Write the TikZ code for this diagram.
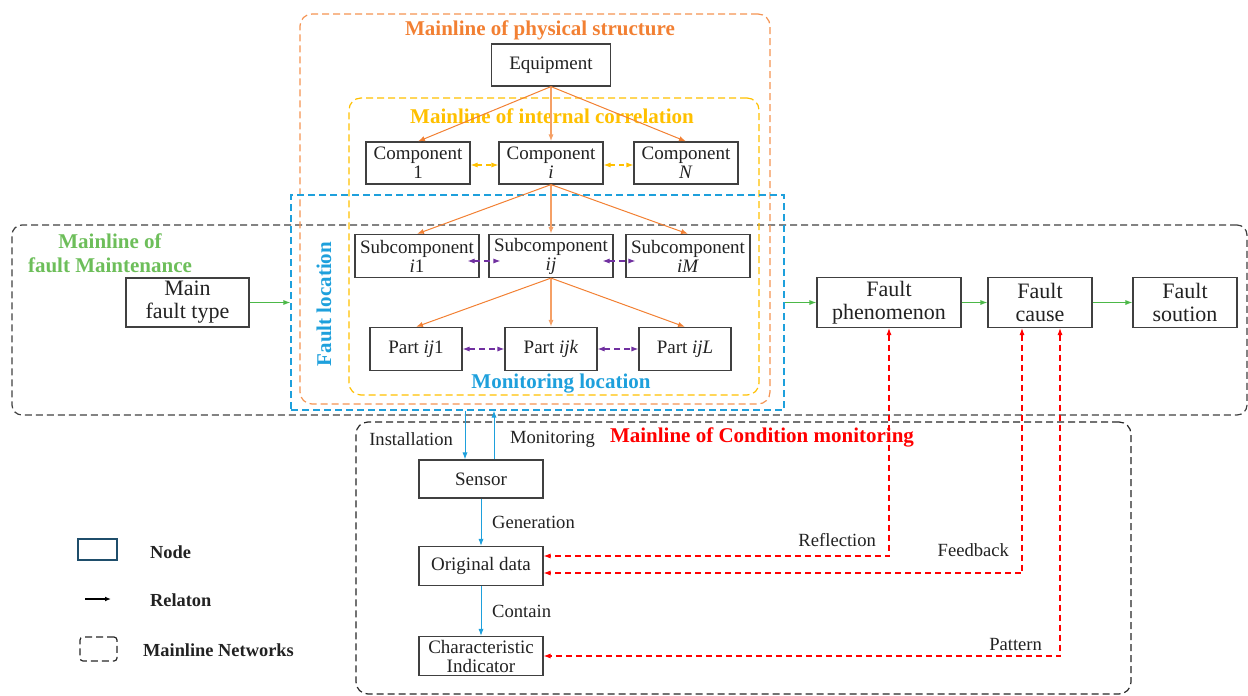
\documentclass[tikz,border=0pt]{standalone}
\usepackage{fontspec}
\setmainfont{Liberation Serif}
\usetikzlibrary{arrows.meta}
\definecolor{orgC}{HTML}{F28033}
\definecolor{yelC}{HTML}{FFC000}
\definecolor{bluC}{HTML}{1EA0DC}
\definecolor{grnT}{HTML}{6DBE5A}
\definecolor{grnA}{HTML}{4CB848}
\definecolor{purC}{HTML}{7030A0}
\definecolor{redC}{HTML}{FF0000}
\definecolor{legC}{HTML}{1F4E6B}
\definecolor{txtC}{HTML}{222222}
\begin{document}
\begin{tikzpicture}[x=0.5pt,y=-0.5pt,
  every node/.style={text=txtC},
  nbox/.style={draw=black!75, line width=0.6pt, fill=white, align=center,
    inner sep=0pt, font=\fontsize{9.5}{9.5}\selectfont},
  bigbox/.style={nbox, font=\fontsize{11}{11.5}\selectfont},
  frame/.style={dashed, dash pattern=on 3.5pt off 2pt, line width=0.6pt, inner sep=0pt},
  ttl/.style={font=\fontsize{10.5}{11}\bfseries\selectfont},
  lbl/.style={font=\fontsize{9.3}{10}\selectfont},
  lgd/.style={font=\fontsize{9.2}{10}\bfseries\selectfont, anchor=west},
  tip/.style={-{Latex[length=3.5pt,width=2.6pt]}},
  btip/.style={{Latex[length=3.5pt,width=2.6pt]}-{Latex[length=3.5pt,width=2.6pt]}},
  orgarrow/.style={tip, draw=orgC, line width=0.5pt},
  orgmid/.style={tip, draw=orgC!75, line width=0.9pt},
  yelarrow/.style={btip, draw=yelC, line width=0.6pt, dashed, dash pattern=on 2.5pt off 2pt},
  purarrow/.style={btip, draw=purC, line width=0.6pt, dashed, dash pattern=on 3pt off 2pt},
  grnarrow/.style={tip, draw=grnA, line width=0.6pt},
  bluarrow/.style={tip, draw=bluC, line width=0.5pt},
  redarrow/.style={btip, draw=redC, line width=0.6pt, dashed, dash pattern=on 3pt off 2pt}
]
\useasboundingbox (0,0) rectangle (1248,696);

% ---- mainline frames ----
\node[frame, draw=black!75, rounded corners=5pt, minimum width=617.5pt, minimum height=95pt] (mfm) at (629.5,320) {};
\node[frame, draw=orgC!85, rounded corners=6pt, minimum width=235pt, minimum height=195pt] (mps) at (535,209) {};
\node[frame, draw=yelC, rounded corners=6pt, minimum width=205pt, minimum height=148.5pt] (mic) at (554,246.5) {};
\node[frame, draw=bluC, minimum width=246.5pt, minimum height=107.5pt] (floc) at (537.5,302.5) {};
\node[frame, draw=black!85, rounded corners=6pt, minimum width=387.5pt, minimum height=136pt] (mcm) at (743.5,558) {};

% ---- frame titles ----
\node[ttl, text=orgC] (tps) at (540,30) {Mainline of physical structure};
\node[ttl, text=yelC] (tic) at (552,116) {Mainline of internal correlation};
\node[ttl, text=bluC, rotate=90] (tfl) at (324,304) {Fault location};
\node[ttl, text=bluC] (tml) at (561,384) {Monitoring location};
\node[ttl, text=grnT, align=center, font=\fontsize{10.5}{12}\bfseries\selectfont] (tfm) at (110,253) {Mainline of\\fault Maintenance};
\node[ttl, text=redC] (tcm) at (762,437) {Mainline of Condition monitoring};

% ---- physical structure nodes ----
\node[nbox, minimum width=59.5pt, minimum height=21pt] (eq) at (551,65) {Equipment};
\node[nbox, minimum width=52pt, minimum height=21pt] (c1) at (418,163) {Component\\1};
\node[nbox, minimum width=52pt, minimum height=21pt] (ci) at (551,163) {Component\\\textit{i}};
\node[nbox, minimum width=52pt, minimum height=21pt] (cn) at (686,163) {Component\\\textit{N}};
\node[nbox, minimum width=62pt, minimum height=21.5pt] (s1) at (417,256) {Subcomponent\\\textit{i}1};
\node[nbox, minimum width=62pt, minimum height=21.5pt] (sj) at (551,256) {Subcomponent\\\textit{ij}};
\node[nbox, minimum width=62pt, minimum height=21.5pt] (sm) at (688,256) {Subcomponent\\\textit{iM}};
\node[nbox, minimum width=46pt, minimum height=21.5pt] (p1) at (416,349) {Part \textit{ij}1};
\node[nbox, minimum width=46pt, minimum height=21.5pt] (pk) at (551,349) {Part \textit{ijk}};
\node[nbox, minimum width=46pt, minimum height=21.5pt] (pl) at (685,349) {Part \textit{ijL}};

% ---- fault maintenance nodes ----
\node[bigbox, minimum width=61.5pt, minimum height=24.5pt] (mft) at (187.5,302.5) {Main\\fault type};
\node[bigbox, minimum width=72pt, minimum height=25pt] (phen) at (889,302.5) {Fault\\phenomenon};
\node[bigbox, minimum width=52pt, minimum height=25pt] (cause) at (1040,302.5) {Fault\\cause};
\node[bigbox, minimum width=52pt, minimum height=25pt] (sol) at (1185,302.5) {Fault\\soution};

% ---- condition monitoring nodes ----
\node[nbox, minimum width=62pt, minimum height=19pt] (sen) at (481,479) {Sensor};
\node[nbox, minimum width=62pt, minimum height=19.5pt] (orig) at (481,566) {Original data};
\node[nbox, minimum width=62pt, minimum height=19.5pt] (chi) at (481,656) {Characteristic\\Indicator};

% ---- hierarchy arrows ----
\draw[orgarrow] (eq.south) -- (c1.north);
\draw[orgmid] (eq.south) -- (ci.north);
\draw[orgarrow] (eq.south) -- (cn.north);
\draw[orgarrow] (ci.south) -- (s1.north);
\draw[orgmid] (ci.south) -- (sj.north);
\draw[orgarrow] (ci.south) -- (sm.north);
\draw[orgarrow] (sj.south) -- (p1.north);
\draw[orgmid] (sj.south) -- (pk.north);
\draw[orgarrow] (sj.south) -- (pl.north);

% ---- correlation arrows ----
\draw[yelarrow] ([yshift=-1pt]c1.east) -- ([yshift=-1pt]ci.west);
\draw[yelarrow] ([yshift=-1pt]ci.east) -- ([yshift=-1pt]cn.west);
\draw[purarrow] ([shift={(-12,5)}]s1.east) -- ([shift={(12,5)}]sj.west);
\draw[purarrow] ([shift={(-11,5)}]sj.east) -- ([shift={(10,5)}]sm.west);
\draw[purarrow] (p1.east) -- (pk.west);
\draw[purarrow] (pk.east) -- (pl.west);

% ---- maintenance chain ----
\draw[grnarrow] (mft.east) -- (mft.east -| floc.west);
\draw[grnarrow] (floc.east |- phen.west) -- (phen.west);
\draw[grnarrow] (phen.east) -- (cause.west);
\draw[grnarrow] (cause.east) -- (sol.west);

% ---- monitoring chain ----
\draw[bluarrow] ([xshift=-8pt]sen.north |- floc.south) -- ([xshift=-8pt]sen.north);
\draw[bluarrow] ([xshift=6.5pt]sen.north) -- ([xshift=6.5pt]sen.north |- floc.south);
\node[lbl, anchor=east] (linst) at (460,439) {Installation};
\node[lbl, anchor=west] (lmon) at (503,439) {Monitoring};
\draw[bluarrow] (sen.south) -- node[lbl, right=2pt] (lgen) {Generation} (orig.north);
\draw[bluarrow] (orig.south) -- node[lbl, right=2pt] (lcon) {Contain} (chi.north);

% ---- feedback links ----
\draw[redarrow] (phen.south) |- ([yshift=5pt]orig.east);
\draw[redarrow] ([xshift=-9pt]cause.south) |- ([yshift=-3.5pt]orig.east);
\draw[redarrow] ([xshift=10pt]cause.south) |- (chi.east);
\node[lbl, anchor=east] (lref) at (883,540) {Reflection};
\node[lbl, anchor=east] (lfb) at (1016,550) {Feedback};
\node[lbl, anchor=east] (lpat) at (1049,644) {Pattern};

% ---- legend ----
\node[draw=legC, line width=0.9pt, minimum width=19.5pt, minimum height=10.5pt, inner sep=0pt] (lgnode) at (97.5,549.5) {};
\node[lgd] (lgnodet) at (143,552) {Node};
\coordinate (lga) at (85,599);
\coordinate (lgb) at (111,599);
\draw[-{Latex[length=3pt,width=2.4pt]}, line width=0.6pt, black] (lga) -- (lgb);
\node[lgd] (lgrelt) at (143,600) {Relaton};
\node[frame, draw=black!85, rounded corners=1.5pt, minimum width=18.5pt, minimum height=12pt] (lgdash) at (98.5,649) {};
\node[lgd] (lgdasht) at (136,650) {Mainline Networks};
\end{tikzpicture}
\end{document}
